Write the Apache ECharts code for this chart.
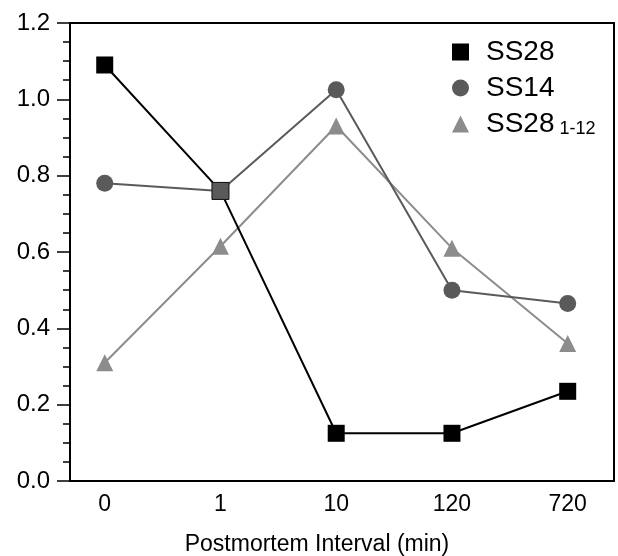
<!DOCTYPE html>
<html>
<head>
<meta charset="utf-8">
<script src="https://cdn.jsdelivr.net/npm/echarts@6/dist/echarts.min.js"></script>
<style>
  html, body { margin: 0; padding: 0; background: #fff; }
  #box1 { width: 618px; height: 556px; }
</style>
</head>
<body>
<div id="box1"></div>
<script>
var myChart = echarts.init(document.getElementById('box1'));

// postmortem intervals (min), plotted evenly spaced
var intervals = ['0', '1', '10', '120', '720'];
var ss28 = [1.09, 0.76, 0.125, 0.125, 0.235];
var ss14 = [0.78, 0.76, 1.025, 0.50, 0.465];
var ss28frag = [0.31, 0.615, 0.93, 0.61, 0.36];
var yTicks = [0, 0.2, 0.4, 0.6, 0.8, 1.0, 1.2];

var font = "'Liberation Sans', Arial, Helvetica, sans-serif";

function toPoints(arr) {
    return arr.map(function (v, i) { return [i, v]; });
}

// the SS14 point at 1 min is drawn as a grey square in the original
var ss14Points = toPoints(ss14);
ss14Points[1] = { value: ss14Points[1], symbol: 'rect', symbolSize: 17,
    itemStyle: { color: '#5a5a5a', borderColor: '#111', borderWidth: 1 } };

option = {
    backgroundColor: '#fff',
    animation: false,
    grid: {
        left: 70,
        top: 23,
        right: 4,
        bottom: 75,
        outerBoundsMode: 'none',
        show: true,
        borderColor: '#000',
        borderWidth: 2
    },
    legend: {
        orient: 'vertical',
        left: 447,
        top: 33,
        itemWidth: 17,
        itemHeight: 17,
        itemGap: 8,
        textStyle: {
            fontFamily: font,
            fontSize: 28,
            color: '#000',
            padding: [0, 0, 0, 12],
            rich: {
                sub: { fontFamily: font, fontSize: 18, color: '#000', padding: [10, 0, 0, 5] }
            }
        },
        formatter: function (name) {
            if (name === 'SS28 1-12') return 'SS28{sub|1-12}';
            return name;
        },
        data: [
            { name: 'SS28', icon: 'rect' },
            { name: 'SS14', icon: 'circle' },
            { name: 'SS28 1-12', icon: 'triangle' }
        ]
    },
    xAxis: {
        type: 'value',
        min: -0.3,
        max: 4.4,
        name: 'Postmortem Interval (min)',
        nameLocation: 'middle',
        nameGap: 52,
        nameTextStyle: { fontFamily: font, fontSize: 23, color: '#000', padding: [0, 50, 0, 0] },
        axisLine: { lineStyle: { color: '#000', width: 2 } },
        axisTick: { show: false },
        splitLine: { show: false },
        axisLabel: {
            customValues: [0, 1, 2, 3, 4],
            margin: 12,
            fontFamily: font,
            fontSize: 23,
            color: '#000',
            formatter: function (v) { return intervals[Math.round(v)]; }
        }
    },
    yAxis: {
        type: 'value',
        min: yTicks[0],
        max: yTicks[yTicks.length - 1],
        interval: 0.2,
        axisLine: { show: true, onZero: false, lineStyle: { color: '#000', width: 2 } },
        axisTick: { show: true, inside: false, length: 13, lineStyle: { color: '#000', width: 1.5 } },
        minorTick: { show: true, splitNumber: 4, length: 7, lineStyle: { color: '#000', width: 1.5 } },
        splitLine: { show: false },
        axisLabel: {
            margin: 20,
            fontFamily: font,
            fontSize: 24,
            color: '#000',
            formatter: function (v) { return v.toFixed(1); }
        }
    },
    series: [
        {
            name: 'SS28',
            type: 'line',
            data: toPoints(ss28),
            symbol: 'rect',
            symbolSize: 17,
            itemStyle: { color: '#000' },
            lineStyle: { color: '#000', width: 2 },
            z: 2
        },
        {
            name: 'SS14',
            type: 'line',
            data: ss14Points,
            symbol: 'circle',
            symbolSize: 17,
            itemStyle: { color: '#5a5a5a' },
            lineStyle: { color: '#5a5a5a', width: 2 },
            z: 3
        },
        {
            name: 'SS28 1-12',
            type: 'line',
            data: toPoints(ss28frag),
            symbol: 'triangle',
            symbolSize: 17,
            itemStyle: { color: '#8c8c8c' },
            lineStyle: { color: '#8c8c8c', width: 2 },
            z: 1
        }
    ]
};
myChart.setOption(option);
</script>
</body>
</html>
